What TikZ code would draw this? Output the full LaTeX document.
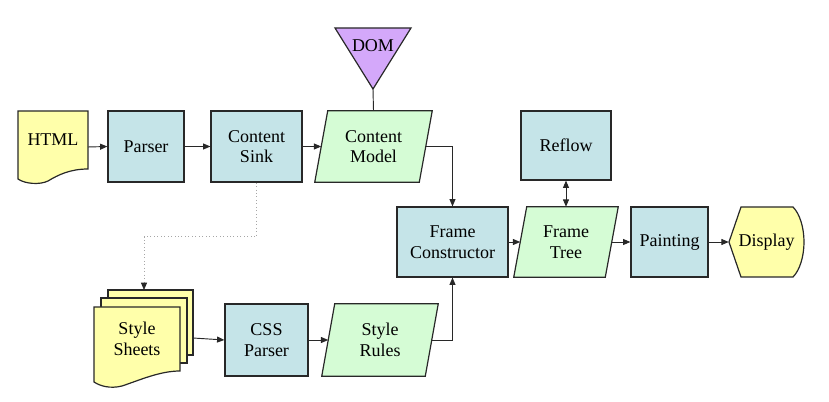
\documentclass[tikz,border=0pt]{standalone}
\usepackage{fontspec}
\setmainfont{Liberation Serif}
\usetikzlibrary{arrows.meta,calc,backgrounds}
\definecolor{boxblue}{RGB}{197,228,232}
\definecolor{boxgreen}{RGB}{213,252,213}
\definecolor{boxyellow}{RGB}{255,255,170}
\definecolor{boxpurple}{RGB}{212,168,250}
\definecolor{edge}{RGB}{40,40,40}
\tikzset{
  sz/.style 2 args={minimum width=#1*0.75pt,minimum height=#2*0.75pt},
  shapeline/.style={draw=edge,line width=0.9pt,line join=miter},
  proc/.style={shapeline,fill=boxblue,align=center,inner sep=0pt,font=\fontsize{13.5pt}{15.5pt}\selectfont},
  txt/.style={align=center,inner sep=0pt,font=\fontsize{13.5pt}{15.5pt}\selectfont},
  conn/.style={draw=edge,line width=0.7pt,-{Triangle[length=5.5pt,width=4.5pt]}},
  dconn/.style={draw=edge,line width=0.7pt,{Triangle[length=5.5pt,width=4.5pt]}-{Triangle[length=5.5pt,width=4.5pt]}},
  dotconn/.style={draw=gray!70,line width=0.6pt,dotted,-{Triangle[length=5.5pt,width=4.5pt,color=edge]}},
  para/.style={shapeline,fill=boxgreen},
  doc/.style={shapeline,fill=boxyellow},
}
\newcommand\paraback[1]{%
  \begin{pgfonlayer}{background}
  \path[para] ($(#1.south west)+(-6.5,0)$) -- ($(#1.north west)+(6.5,0)$)
     -- ($(#1.north east)+(6.5,0)$) -- ($(#1.south east)+(-6.5,0)$) -- cycle;
  \end{pgfonlayer}}
\begin{document}
\begin{tikzpicture}[x=0.75pt,y=-0.75pt]
\useasboundingbox (0,0) rectangle (829,402);
% HTML document
\path[doc] (18,111) -- (88,111) -- (88,169)
  .. controls (70,169) and (58,175) .. (48,181)
  .. controls (40,185) and (25,184) .. (18,179) -- cycle;
\node[txt] (html) at (53,140) {HTML};
\coordinate (htmlR) at (88,147);
% row 1
\node[proc,sz={76}{71}] (parser) at (146,146.5) {Parser};
\node[proc,sz={91}{71}] (sink) at (256.5,146.5) {Content\\Sink};
\node[txt,sz={104}{71}] (cm) at (373.5,146.5) {Content\\Model};
\paraback{cm}
% DOM
\path[shapeline,fill=boxpurple] (335,28) -- (411,28) -- (373,89) -- cycle;
\node[txt] (dom) at (373,46) {DOM};
\coordinate (domtip) at (373,89);
% row 2
\node[proc,sz={90}{69}] (reflow) at (566,145.5) {Reflow};
\node[proc,sz={111}{70}] (fc) at (452.5,242) {Frame\\Constructor};
\node[txt,sz={91}{70}] (ft) at (566,242) {Frame\\Tree};
\paraback{ft}
\node[proc,sz={77}{70}] (paint) at (669.5,242) {Painting};
% Display
\path[doc] (729,242) -- (741,207) -- (793,207)
  .. controls (800,214) and (804,228) .. (804,242)
  .. controls (804,256) and (800,270) .. (793,277) -- (741,277) -- cycle;
\node[txt,sz={75}{70}] (disp) at (766.5,242) {Display};
% Style sheets
\path[doc] (108,290) rectangle (193,355);
\path[doc] (101,298) rectangle (187,363);
\path[doc] (94,307) -- (180,307) -- (180,371)
  .. controls (160,371) and (140,380) .. (122,386)
  .. controls (110,389) and (100,386) .. (94,382) -- cycle;
\node[txt] (ss) at (137,339) {Style\\Sheets};
\coordinate (ssTop) at (144,290);
\coordinate (ssR) at (193,338);
% row 3
\node[proc,sz={83}{72}] (css) at (266.5,340) {CSS\\Parser};
\node[txt,sz={103}{72}] (sr) at (380,340) {Style\\Rules};
\paraback{sr}
% connectors
\draw[conn] (htmlR) -- (parser.west);
\draw[conn] (parser) -- (sink);
\draw[conn] (sink) -- (cm);
\draw[draw=edge,line width=0.7pt] (domtip) -- (cm.north);
\draw[conn] (cm.east) -| (fc.north);
\draw[conn] (fc) -- (ft);
\draw[conn] (ft) -- (paint);
\draw[conn] (paint) -- (disp.west);
\draw[dconn] (reflow.south) -- (ft.north);
\draw[dotconn] (sink.south) -- ++(0,54) -| (ssTop);
\draw[conn] (ssR) -- (css.west);
\draw[conn] (css) -- (sr);
\draw[conn] (sr.east) -| (fc.south);
\end{tikzpicture}
\end{document}
